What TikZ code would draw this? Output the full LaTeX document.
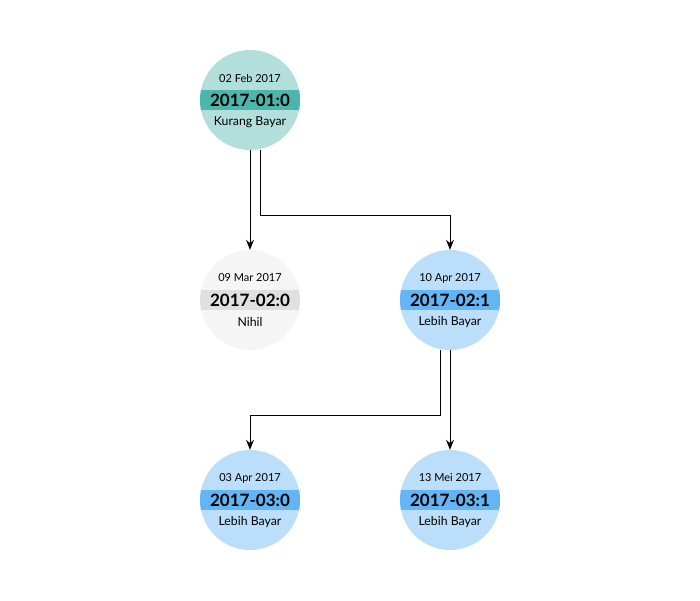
\documentclass[tikz,border=0pt]{standalone}
\usepackage{fontspec}
\setmainfont{Lato}
\usetikzlibrary{arrows.meta}
\definecolor{tealfill}{HTML}{B2DFDB}
\definecolor{tealband}{HTML}{4DB6AC}
\definecolor{bluefill}{HTML}{BBDEFB}
\definecolor{blueband}{HTML}{64B5F6}
\definecolor{greyfill}{HTML}{F5F5F5}
\definecolor{greyband}{HTML}{E0E0E0}
\tikzset{
  conn/.style={draw=black, line width=0.8pt, -{Stealth[length=10pt,width=8pt]}},
  datetxt/.style={font=\fontsize{11}{12}\selectfont, inner sep=0pt},
  idtxt/.style={font=\fontsize{17}{19}\selectfont\bfseries, inner sep=0pt},
  labtxt/.style={font=\fontsize{12.3}{14}\selectfont, inner sep=0pt},
  circ/.style={circle, minimum size=100pt, inner sep=0pt, draw=none}
}
\newcommand{\kpinode}[5]{% name, x, y, fill, band
  \node[circ, fill=#4] (#1) at (#2,#3) {};
  \begin{scope}
    \clip (#2,#3) circle (50);
    \fill[#5] (#2-50,#3-10) rectangle (#2+50,#3+10);
  \end{scope}
}
\begin{document}
\begin{tikzpicture}[x=1pt,y=-1pt]
\useasboundingbox (0,0) rectangle (700,600);
% nodes
\kpinode{n1}{250}{100}{tealfill}{tealband}
\node[datetxt] (n1d) at (250,78) {02 Feb 2017};
\node[idtxt] (n1i) at (250,100.5) {2017-01:0};
\node[labtxt] (n1l) at (250,122) {Kurang Bayar};

\kpinode{n2}{250}{300}{greyfill}{greyband}
\node[datetxt] (n2d) at (250,278) {09 Mar 2017};
\node[idtxt] (n2i) at (250,300.5) {2017-02:0};
\node[labtxt] (n2l) at (250,322) {Nihil};

\kpinode{n3}{450}{300}{bluefill}{blueband}
\node[datetxt] (n3d) at (450,278) {10 Apr 2017};
\node[idtxt] (n3i) at (450,300.5) {2017-02:1};
\node[labtxt] (n3l) at (450,322) {Lebih Bayar};

\kpinode{n4}{250}{500}{bluefill}{blueband}
\node[datetxt] (n4d) at (250,478) {03 Apr 2017};
\node[idtxt] (n4i) at (250,500.5) {2017-03:0};
\node[labtxt] (n4l) at (250,522) {Lebih Bayar};

\kpinode{n5}{450}{500}{bluefill}{blueband}
\node[datetxt] (n5d) at (450,478) {13 Mei 2017};
\node[idtxt] (n5i) at (450,500.5) {2017-03:1};
\node[labtxt] (n5l) at (450,522) {Lebih Bayar};

% connectors
\draw[conn] (n1.south) -- (n2.north);
\draw[conn] ([xshift=10pt]n1.south) -- ++(0,65) -| (n3.north);
\draw[conn] ([xshift=-10pt]n3.south) -- ++(0,65) -| (n4.north);
\draw[conn] (n3.south) -- (n5.north);
\end{tikzpicture}
\end{document}
